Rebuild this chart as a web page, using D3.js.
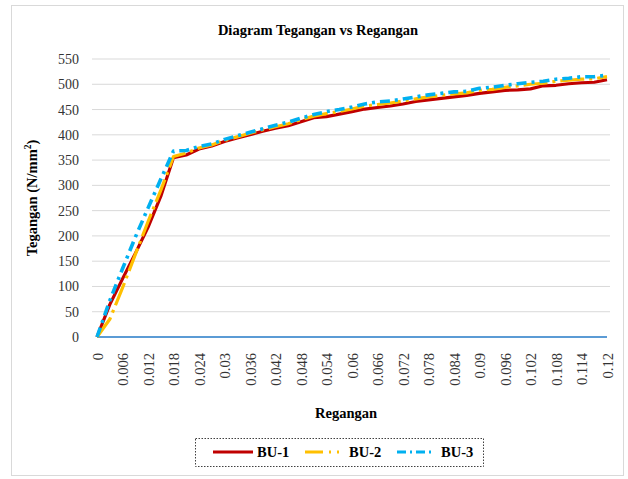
<!DOCTYPE html>
<html><head><meta charset="utf-8">
<script src="https://cdn.jsdelivr.net/npm/d3@7"></script>
<style>body{margin:0;background:#fff;}svg{display:block;font-family:"Liberation Serif","Times New Roman",serif;}</style>
</head><body><svg id="c" width="628" height="479"></svg>
<script>
const strain = [0,0.003,0.006,0.009,0.012,0.015,0.018,0.021,0.024,0.027,0.030,0.033,0.036,0.039,0.042,0.045,0.048,0.051,0.054,0.057,0.060,0.063,0.066,0.069,0.072,0.075,0.078,0.081,0.084,0.087,0.090,0.093,0.096,0.099,0.102,0.105,0.108,0.111,0.114,0.117,0.120];
const bu1 = [0,64,115,165,217,278,355,360,372,378,387,394,400,407,413,418,426,434,436,441,446,451,454,457,461,466,469,472,475,478,482,485,488,489,491,497,498,501,503,504,509];
const bu2 = [0,35,97,163,228,290,357,364,374,380,389,396,403,410,416,422,430,437,442,446,451,457,460,463,467,471,475,478,481,483,488,490,494,497,500,502,506,508,510,511,515];
const bu3 = [0,72,135,197,255,312,368,369,377,382,391,398,405,412,419,425,433,440,446,450,455,461,465,467,471,475,479,482,485,486,492,494,498,501,504,506,510,512,515,515,518];
const baseline = strain.map(() => 0);
const xTicks = ["0","0.006","0.012","0.018","0.024","0.03","0.036","0.042","0.048","0.054","0.06","0.066","0.072","0.078","0.084","0.09","0.096","0.102","0.108","0.114","0.12"];
const yTicks = [0,50,100,150,200,250,300,350,400,450,500,550];
const seriesNames = ["BU-1","BU-2","BU-3"];
const seriesColors = ["#C00000","#FFC000","#00B0F0"];
const seriesDash = [null,"24,5,3,5","10,5,3,5"];
const legendDash = [null,"18,6,2,6,2,6","9,4,2,4"];

const svg = d3.select("#c");
svg.append("rect").attr("x",11.5).attr("y",5.5).attr("width",612).attr("height",470)
  .attr("fill","#fff").attr("stroke","#D9D9D9");

const x = d3.scaleLinear().domain([0,0.12]).range([97,607]);
const y = d3.scaleLinear().domain([0,550]).range([337,59]);

svg.append("g").selectAll("line").data(yTicks.filter(d=>d>0)).join("line")
  .attr("x1",92).attr("x2",610).attr("y1",d=>y(d)).attr("y2",d=>y(d))
  .attr("stroke","#D9D9D9").attr("stroke-width",1);

const yAxis = d3.axisLeft(y).tickValues(yTicks).tickSize(0).tickPadding(0);
const yg = svg.append("g").attr("transform","translate(79,0)").call(yAxis);
yg.select(".domain").remove();
yg.selectAll("text").attr("font-family","Liberation Serif").attr("font-size",14).attr("fill","#333");

const xAxis = d3.axisBottom(x).tickValues(xTicks.map(Number)).tickSize(0).tickFormat((d,i)=>xTicks[i]);
const xg = svg.append("g").attr("transform","translate(0,337)").call(xAxis);
xg.select(".domain").remove();
xg.selectAll("text").attr("font-family","Liberation Serif").attr("font-size",14.5).attr("fill","#333")
  .attr("text-anchor","end").attr("dy","0.35em")
  .attr("transform","translate(0,16) rotate(-90)").attr("x",0).attr("y",0);

const line = d3.line().x((d,i)=>x(strain[i])).y(d=>y(d));
svg.append("path").datum(baseline).attr("d",line).attr("fill","none")
  .attr("stroke","#5B9BD5").attr("stroke-width",2.2);

[bu1,bu2,bu3].forEach((s,k)=>{
  svg.append("path").datum(s).attr("d",line).attr("fill","none")
    .attr("stroke",seriesColors[k]).attr("stroke-width",k===2?3.6:3.2)
    .attr("stroke-linejoin","round")
    .attr("stroke-dasharray",seriesDash[k]);
});

svg.append("text").attr("x",318).attr("y",35).attr("text-anchor","middle")
  .attr("font-size",14.5).attr("font-weight","bold").attr("fill","#000").text("Diagram Tegangan vs Regangan");
const yt = svg.append("text").attr("transform","translate(37,198) rotate(-90)").attr("text-anchor","middle")
  .attr("font-size",14.5).attr("font-weight","bold").attr("fill","#000");
yt.append("tspan").text("Tegangan (N/mm");
yt.append("tspan").attr("font-size",9.5).attr("dy",-6).text("2");
yt.append("tspan").attr("dy",6).text(")");
svg.append("text").attr("x",346).attr("y",418).attr("text-anchor","middle")
  .attr("font-size",14.5).attr("font-weight","bold").attr("fill","#000").text("Regangan");

const lg = svg.append("g");
lg.append("rect").attr("x",195.5).attr("y",438.5).attr("width",288).attr("height",28)
  .attr("fill","none").attr("stroke","#404040").attr("stroke-dasharray","1.5,1.5");
const legX = [213,305,397];
seriesNames.forEach((n,k)=>{
  lg.append("line").attr("x1",legX[k]).attr("x2",legX[k]+(k===0?40:36)).attr("y1",452).attr("y2",452)
    .attr("stroke",seriesColors[k]).attr("stroke-width",3).attr("stroke-dasharray",legendDash[k]);
  lg.append("text").attr("x",legX[k]+44).attr("y",457).attr("font-size",14.5)
    .attr("font-weight","bold").attr("fill","#000").text(n);
});
</script></body></html>
